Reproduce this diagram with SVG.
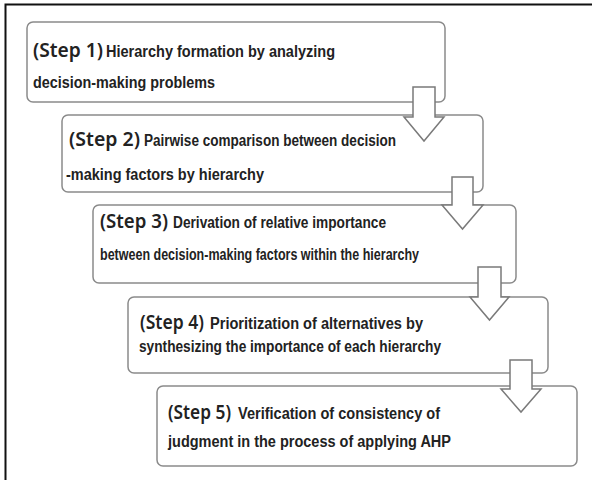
<svg xmlns="http://www.w3.org/2000/svg" width="592" height="480" viewBox="0 0 592 480">
<style>
.box{fill:#fff;stroke:#8a8a8a;stroke-width:1.5}
.arr{fill:#fff;stroke:#7a7a7a;stroke-width:1.5;stroke-linejoin:miter}
.st{font-family:"Noto Sans","Liberation Sans",sans-serif;font-size:20px;font-weight:600;fill:#222}
.tx{font-family:"Liberation Sans","Noto Sans",sans-serif;font-size:16px;font-weight:bold;fill:#222}
</style>
<rect width="592" height="480" fill="#fff"/>
<path d="M5.5 480 V4.5 H592" fill="none" stroke="#111" stroke-width="2"/>
<g id="step1">
<rect class="box" x="27" y="22" width="418" height="80" rx="6"/>
<text class="st" x="33" y="57" textLength="70" lengthAdjust="spacingAndGlyphs">(Step 1)</text>
<text class="tx" x="106" y="57" textLength="229" lengthAdjust="spacingAndGlyphs">Hierarchy formation by analyzing</text>
<text class="tx" x="33" y="88" textLength="182" lengthAdjust="spacingAndGlyphs">decision-making problems</text>
</g>
<g id="step2">
<rect class="box" x="62" y="115" width="421" height="77" rx="6"/>
<text class="st" x="69" y="146" textLength="71" lengthAdjust="spacingAndGlyphs">(Step 2)</text>
<text class="tx" x="144" y="146" textLength="252" lengthAdjust="spacingAndGlyphs">Pairwise comparison between decision</text>
<text class="tx" x="66" y="180" textLength="198" lengthAdjust="spacingAndGlyphs">-making factors by hierarchy</text>
</g>
<g id="step3">
<rect class="box" x="93" y="205" width="423" height="78" rx="6"/>
<text class="st" x="100" y="228" textLength="68" lengthAdjust="spacingAndGlyphs">(Step 3)</text>
<text class="tx" x="173" y="228" textLength="213" lengthAdjust="spacingAndGlyphs">Derivation of relative importance</text>
<text class="tx" x="100" y="260" textLength="319" lengthAdjust="spacingAndGlyphs">between decision-making factors within the hierarchy</text>
</g>
<g id="step4">
<rect class="box" x="128" y="297" width="420" height="76" rx="6"/>
<text class="st" x="140" y="329" textLength="64" lengthAdjust="spacingAndGlyphs">(Step 4)</text>
<text class="tx" x="210" y="329" textLength="213" lengthAdjust="spacingAndGlyphs">Prioritization of alternatives by</text>
<text class="tx" x="139" y="352" textLength="302" lengthAdjust="spacingAndGlyphs">synthesizing the importance of each hierarchy</text>
</g>
<g id="step5">
<rect class="box" x="157" y="386" width="420" height="80" rx="6"/>
<text class="st" x="168" y="419" textLength="63" lengthAdjust="spacingAndGlyphs">(Step 5)</text>
<text class="tx" x="238" y="419" textLength="202" lengthAdjust="spacingAndGlyphs">Verification of consistency of</text>
<text class="tx" x="168" y="447" textLength="283" lengthAdjust="spacingAndGlyphs">judgment in the process of applying AHP</text>
</g>
<g id="connectors">
<polygon class="arr" points="413,87 435,87 435,117 444,117 424,141 404,117 413,117"/>
<polygon class="arr" points="452,177 473,177 473,205 483,205 462.5,229 442,205 452,205"/>
<polygon class="arr" points="478,267 501,267 501,297 509,297 489.5,320 470,297 478,297"/>
<polygon class="arr" points="510,360 532,360 532,389 541,389 521,412 501,389 510,389"/>
</g>
</svg>
